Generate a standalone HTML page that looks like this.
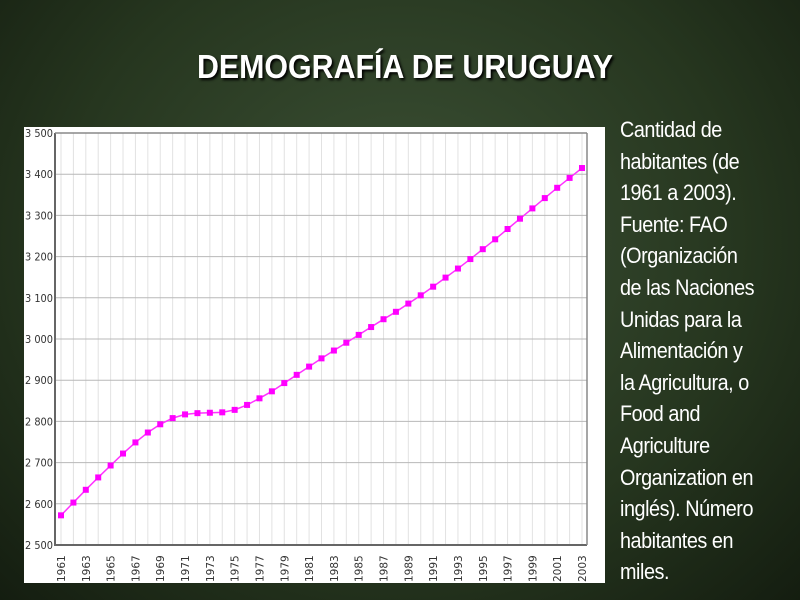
<!DOCTYPE html>
<html><head><meta charset="utf-8"><style>
body{margin:0;width:800px;height:600px;overflow:hidden;background:radial-gradient(ellipse at 50% 40%,#3d5236 0%,#26361f 60%,#141d10 100%);font-family:"Liberation Sans",sans-serif;position:relative}
h1{position:absolute;left:0;width:810px;top:48px;margin:0;text-align:center;color:#fff;font:bold 33px "Liberation Sans",sans-serif;text-shadow:2px 2px 3px #000;transform:scaleX(0.92)}
#side{position:absolute;left:620px;top:114px;width:200px;color:#fff;font:22px/31.6px "Liberation Sans",sans-serif;letter-spacing:-0.5px;transform:scaleX(0.9);transform-origin:0 0;white-space:nowrap}
</style></head><body>
<h1>DEMOGRAFÍA DE URUGUAY</h1>
<svg style="position:absolute;left:0;top:0" width="800" height="600">
<rect x="24" y="127" width="581" height="456" fill="#fff"/>
<g id="g"></g>
</svg>
<div id="side">Cantidad de<br>habitantes (de<br>1961 a 2003).<br>Fuente: FAO<br>(Organización<br>de las Naciones<br>Unidas para la<br>Alimentación y<br>la Agricultura, o<br>Food and<br>Agriculture<br>Organization en<br>inglés). Número<br>habitantes en<br>miles.</div>
<script>
const years=[1961,1962,1963,1964,1965,1966,1967,1968,1969,1970,1971,1972,1973,1974,1975,1976,1977,1978,1979,1980,1981,1982,1983,1984,1985,1986,1987,1988,1989,1990,1991,1992,1993,1994,1995,1996,1997,1998,1999,2000,2001,2002,2003];
const population=[2572,2603,2634,2664,2693,2722,2749,2773,2793,2808,2817,2820,2821,2822,2828,2840,2856,2873,2893,2913,2933,2953,2972,2991,3010,3029,3048,3066,3086,3106,3127,3149,3171,3194,3218,3242,3267,3292,3317,3342,3367,3391,3415];
const yTicks=[2500,2600,2700,2800,2900,3000,3100,3200,3300,3400,3500];
const yLabels=["2 500","2 600","2 700","2 800","2 900","3 000","3 100","3 200","3 300","3 400","3 500"];
const L=55,R=587,T=133,B=545,x0=61,x1=582;
const X=y=>x0+(y-1961)*(x1-x0)/42;
const Y=v=>B-(v-2500)*(B-T)/1000;
const g=document.getElementById('g');const NS='http://www.w3.org/2000/svg';
function el(t,a,txt){const e=document.createElementNS(NS,t);for(const k in a)e.setAttribute(k,a[k]);if(txt)e.textContent=txt;g.appendChild(e);return e;}
years.forEach(y=>{const e=el('line',{x1:X(y),x2:X(y),y1:T,y2:B,stroke:'#e2e2e2','stroke-width':1});

});
yTicks.forEach((v,i)=>{const e=el('line',{x1:L,x2:R,y1:Y(v),y2:Y(v),stroke:'#b8b8b8','stroke-width':1});


const t=el('text',{x:25,y:Y(v)+4,'font-size':10.5,fill:'#333','font-family':'DejaVu Sans, sans-serif',textLength:28,lengthAdjust:'spacingAndGlyphs'},yLabels[i]);

});
let a=el('line',{x1:L,x2:L,y1:T,y2:B+1,stroke:'#666','stroke-width':2});
a=el('line',{x1:L,x2:R,y1:B,y2:B,stroke:'#666','stroke-width':2});
a=el('line',{x1:L,x2:R,y1:T,y2:T,stroke:'#888','stroke-width':1.5});
a=el('line',{x1:R,x2:R,y1:T,y2:B,stroke:'#888','stroke-width':1.5});
years.forEach((y,i)=>{if(i%2==0){const t=el('text',{x:X(y)+4,y:B+37,'font-size':10.5,fill:'#333','font-family':'DejaVu Sans, sans-serif','text-anchor':'start',transform:`rotate(-90 ${X(y)+4} ${B+37})`},String(y));

}});
const ln=el('polyline',{points:years.map((y,i)=>X(y)+','+Y(population[i])).join(' '),fill:'none',stroke:'#ff33ff','stroke-width':1.5});


years.forEach((y,i)=>{const r=el('rect',{x:X(y)-3,y:Y(population[i])-3,width:6,height:6,fill:'#ff00ff'});

});
</script>
</body></html>
